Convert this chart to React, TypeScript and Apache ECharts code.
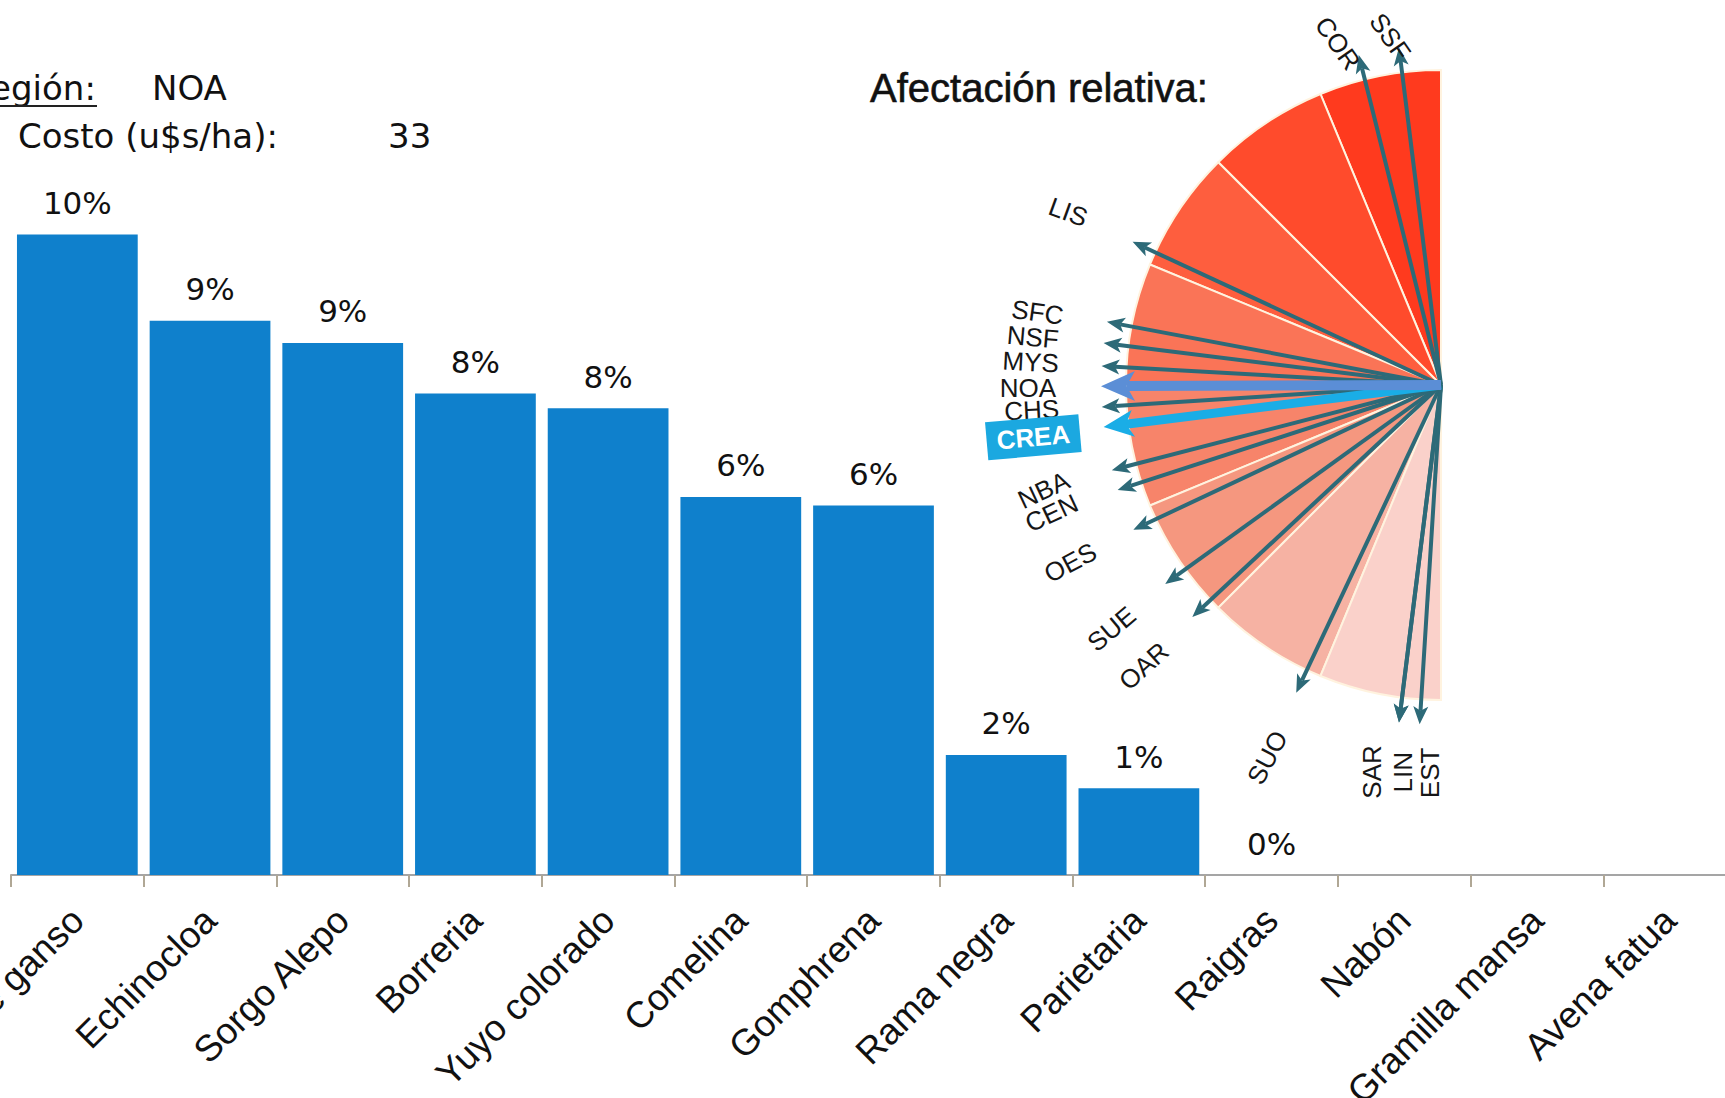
import React, { useEffect, useRef } from "react";
import * as echarts from "echarts";

// ---------- DATA ----------
const categories = [
  "Pata de ganso",
  "Echinocloa",
  "Sorgo Alepo",
  "Borreria",
  "Yuyo colorado",
  "Comelina",
  "Gomphrena",
  "Rama negra",
  "Parietaria",
  "Raigras",
  "Nabón",
  "Gramilla mansa",
  "Avena fatua",
];
// share of cost (%) per weed; null = no bar
const costShare: (number | null)[] = [10.4, 9.0, 8.64, 7.82, 7.58, 6.14, 6.0, 1.95, 1.41, 0, null, null, null];

const regionName = "NOA";
const costPerHa = 33;

// relative-affectation fan: 8 equal sectors (left half, from top to bottom)
const sectorLevels = [1, 1, 1, 1, 1, 1, 1, 1];

// regions and the angle of their arrow (degrees counter-clockwise from "up")
const regionCodes = ["SSF", "COR", "LIS", "SFC", "NSF", "MYS", "CHS", "NBA", "CEN", "OES", "SUE", "OAR", "SUO", "SAR", "LIN", "EST", "CREA", "NOA"];
const regionAngles = [7.1, 14, 65.1, 79.3, 82.9, 86.8, 93.7, 104.5, 108, 115.2, 125.8, 133, 154.8, 172.9, 172.9, 176.4, 97.1, 90.2];
// 0 = regular region, 1 = selected region, 2 = CREA average
const regionKind = [0, 0, 0, 0, 0, 0, 0, 0, 0, 0, 0, 0, 0, 0, 0, 0, 2, 1];

// ---------- STYLE / LAYOUT ----------
const sectorColors = ["#FF3A1E", "#FF4B2C", "#FE5E3E", "#FA7457", "#F7846A", "#F5977F", "#F6B2A3", "#FAD1CA"];
const labelRadiusPx = [352, 357, 411, 410, 411, 411, 410, 411, 410, 411, 410, 409, 411, 393, 389, 388, 411, 413];
const labelShift = [1.2, 2.8, 0, 0.5, 0.4, 0, -0.2, 0.3, 0.2, 0.4, 0.7, 0.4, 0.2, -3, 1.5, 2, 0.2, 0.2];
const labelRotation = [-55, -55, -20, -8, -5, -3, 3, 25, 25, 28, 40, 42, 62, 90, 90, 90, 5, 0];
const arrowStyles: Record<number, any> = {
  0: { color: "#2D6A78", width: 4, headLen: 18, headW: 15 },
  1: { color: "#5B8ED6", width: 10, headLen: 34, headW: 30 },
  2: { color: "#1AADE6", width: 9, headLen: 30, headW: 27 },
};
const FAN_CENTER = [1441, 385];
const ARROW_LEN = 340;
const SECTOR_R = 315;

export default function App() {
  const ref = useRef<HTMLDivElement>(null);
  useEffect(() => {
    if (!ref.current) return;
    const chart = echarts.init(ref.current, null, { renderer: "svg" });

    const sectorData = sectorLevels.map((v, i) => ({ value: v, itemStyle: { color: sectorColors[i] } }));
    while (sectorData.length < 16) sectorData.push({ value: null as any, itemStyle: { color: "transparent" } });

    const arrowData = regionCodes.map((c, i) => ({ name: c, value: [1, regionAngles[i], regionKind[i]] }));

    const option: any = {
      animation: false,
      grid: { left: 11, top: 136, width: 1725, height: 739, containLabel: false, outerBoundsMode: "none" },
      xAxis: {
        type: "category",
        data: categories,
        axisLine: { show: true, lineStyle: { color: "#A5A5A5", width: 2 } },
        axisTick: { show: true, length: 12, lineStyle: { color: "#B0A795", width: 2 } },
        axisLabel: {
          interval: 0,
          rotate: 45,
          margin: 39,
          fontSize: 37,
          fontFamily: "Liberation Sans",
          color: "#111",
          hideOverlap: false,
        },
      },
      yAxis: { type: "value", min: 0, max: 12, show: false, splitLine: { show: false } },
      polar: [
        { center: FAN_CENTER, radius: SECTOR_R },
        { center: FAN_CENTER, radius: ARROW_LEN },
      ],
      angleAxis: [
        {
          polarIndex: 0,
          type: "category",
          data: sectorData.map((_, i) => "s" + i),
          startAngle: 90,
          clockwise: false,
          boundaryGap: true,
          axisLine: { show: false },
          axisTick: { show: false },
          axisLabel: { show: false },
          splitLine: { show: false },
        },
        {
          polarIndex: 1,
          type: "value",
          min: 0,
          max: 360,
          startAngle: 90,
          clockwise: false,
          axisLine: { show: false },
          axisTick: { show: false },
          axisLabel: { show: false },
          splitLine: { show: false },
        },
      ],
      radiusAxis: [
        { polarIndex: 0, type: "value", min: 0, max: 1, axisLine: { show: false }, axisTick: { show: false }, axisLabel: { show: false }, splitLine: { show: false } },
        { polarIndex: 1, type: "value", min: 0, max: 1, axisLine: { show: false }, axisTick: { show: false }, axisLabel: { show: false }, splitLine: { show: false } },
      ],
      series: [
        {
          type: "bar",
          data: costShare,
          barCategoryGap: "9%",
          itemStyle: { color: "#0F80CC" },
          label: {
            show: true,
            position: "top",
            distance: 16,
            fontSize: 31,
            fontFamily: "DejaVu Sans",
            color: "#111",
            formatter: (p: any) => Math.round(p.value) + "%",
          },
          z: 2,
        },
        {
          type: "bar",
          coordinateSystem: "polar",
          polarIndex: 0,
          data: sectorData,
          barCategoryGap: "0%",
          itemStyle: { borderColor: "#FFF3DF", borderWidth: 2 },
          z: 2,
        },
        {
          type: "custom",
          coordinateSystem: "polar",
          polarIndex: 1,
          data: arrowData,
          z: 5,
          renderItem: (params: any, api: any) => {
            const idx = params.dataIndex;
            const ang = api.value(1);
            const kind = api.value(2);
            const st = arrowStyles[kind];
            const c = api.coord([0, ang]);
            const tip = api.coord([1, ang]);
            const dx = tip[0] - c[0];
            const dy = tip[1] - c[1];
            const len = Math.hypot(dx, dy);
            const ux = dx / len;
            const uy = dy / len;
            const nx = -uy;
            const ny = ux;
            const bx = tip[0] - ux * st.headLen;
            const by = tip[1] - uy * st.headLen;
            const notchX = bx + ux * st.headLen * 0.25;
            const notchY = by + uy * st.headLen * 0.25;
            const children: any[] = [
              {
                type: "line",
                shape: { x1: c[0], y1: c[1], x2: notchX, y2: notchY },
                style: { stroke: st.color, lineWidth: st.width },
              },
              {
                type: "polygon",
                shape: {
                  points: [
                    [tip[0], tip[1]],
                    [bx + (nx * st.headW) / 2, by + (ny * st.headW) / 2],
                    [notchX, notchY],
                    [bx - (nx * st.headW) / 2, by - (ny * st.headW) / 2],
                  ],
                },
                style: { fill: st.color },
              },
            ];
            const lp = api.coord([labelRadiusPx[idx] / ARROW_LEN, ang + labelShift[idx]]);
            const isCrea = kind === 2;
            children.push({
              type: "text",
              x: lp[0],
              y: lp[1],
              rotation: (labelRotation[idx] * Math.PI) / 180,
              style: {
                text: regionCodes[idx],
                fontSize: 26,
                fontWeight: isCrea ? "bold" : "normal",
                fontFamily: "Liberation Sans",
                fill: isCrea ? "#FFFFFF" : "#161616",
                align: "center",
                verticalAlign: "middle",
                backgroundColor: isCrea ? "#1BA8E0" : undefined,
                padding: isCrea ? [7, 10, 5, 10] : 0,
              },
            });
            return { type: "group", children };
          },
        },
      ],
      graphic: [
        {
          type: "text",
          x: -32,
          y: 88,
          style: { text: "Región:", fontSize: 34, fontFamily: "DejaVu Sans", fill: "#111", align: "left", verticalAlign: "middle" },
        },
        { type: "line", shape: { x1: 0, y1: 106, x2: 97, y2: 106 }, style: { stroke: "#222", lineWidth: 2 } },
        {
          type: "text",
          x: 152,
          y: 88,
          style: { text: regionName, fontSize: 34, fontFamily: "DejaVu Sans", fill: "#111", align: "left", verticalAlign: "middle" },
        },
        {
          type: "text",
          x: 18,
          y: 136,
          style: { text: "Costo (u$s/ha):", fontSize: 34, fontFamily: "DejaVu Sans", fill: "#111", align: "left", verticalAlign: "middle" },
        },
        {
          type: "text",
          x: 388,
          y: 136,
          style: { text: String(costPerHa), fontSize: 34, fontFamily: "DejaVu Sans", fill: "#111", align: "left", verticalAlign: "middle" },
        },
        {
          type: "text",
          x: 870,
          y: 88,
          style: {
            text: "Afectación relativa:",
            fontSize: 40,
            fontFamily: "Liberation Sans",
            fill: "#111",
            stroke: "#111",
            lineWidth: 0.6,
            align: "left",
            verticalAlign: "middle",
          },
        },
      ],
    };
    chart.setOption(option);
    return () => chart.dispose();
  }, []);

  return (
    <div
      ref={ref}
      style={{ position: "fixed", left: 0, top: 0, width: "1725px", height: "1098px", background: "#fff" }}
    />
  );
}
